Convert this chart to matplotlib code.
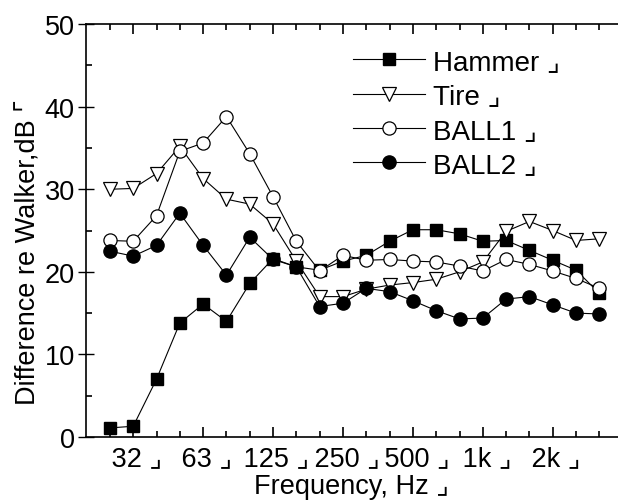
import numpy as np
import matplotlib.pyplot as plt
from matplotlib.ticker import FixedLocator

plt.rcParams['font.family'] = ['Liberation Sans', 'DejaVu Sans']

# 1/3 octave bands, 25 Hz .. 3150 Hz
bands = ['25', '31.5', '40', '50', '63', '80', '100', '125', '160', '200', '250',
         '315', '400', '500', '630', '800', '1k', '1.25k', '1.6k', '2k', '2.5k', '3.15k']
hammer = [1.1, 1.3, 7.0, 13.8, 16.1, 14.0, 18.6, 21.6, 20.6, 20.2, 21.3,
          22.0, 23.7, 25.1, 25.1, 24.6, 23.7, 23.8, 22.6, 21.4, 20.2, 17.4]
tire = [30.0, 30.1, 31.9, 35.2, 31.3, 28.8, 28.2, 25.8, 21.3, 17.0, 17.0,
        17.9, 18.4, 18.7, 19.1, 20.0, 21.2, 24.9, 26.1, 25.0, 23.8, 24.0]
ball1 = [23.8, 23.7, 26.8, 34.6, 35.6, 38.8, 34.3, 29.1, 23.7, 20.1, 22.0,
         21.4, 21.5, 21.3, 21.2, 20.7, 20.1, 21.5, 20.9, 20.1, 19.2, 18.0]
ball2 = [22.5, 21.9, 23.2, 27.1, 23.2, 19.6, 24.2, 21.5, 20.6, 15.8, 16.2,
         18.0, 17.6, 16.5, 15.3, 14.3, 14.4, 16.7, 17.0, 16.0, 15.0, 14.9]

major_idx = [1, 4, 7, 10, 13, 16, 19]
major_lab = ['32', '63', '125', '250', '500', '1k', '2k']

x = np.arange(len(bands))

fig = plt.figure(figsize=(6.18, 5.02), dpi=100)
ax = fig.add_axes([0.139, 0.1275, 0.861, 0.8225])

ax.plot(x, hammer, '-', color='black', lw=0.8, marker='s', ms=8.5,
        mfc='black', mec='black', label='Hammer \u231f')
ax.plot(x, tire, '-', color='black', lw=0.8, marker='v', ms=10.5,
        mfc='white', mec='black', mew=0.9, label='Tire \u231f')
ax.plot(x, ball1, '-', color='black', lw=0.8, marker='o', ms=9.5,
        mfc='white', mec='black', mew=0.9, label='BALL1 \u231f')
ax.plot(x, ball2, '-', color='black', lw=0.8, marker='o', ms=9.5,
        mfc='black', mec='black', label='BALL2 \u231f')

ax.set_xlim(-1.03, 21.8)
ax.set_ylim(0, 50)

ax.xaxis.set_major_locator(FixedLocator(major_idx))
ax.xaxis.set_minor_locator(FixedLocator([i for i in x if i not in major_idx]))
ax.set_xticklabels([' ' + s + ' \u231f' for s in major_lab], fontsize=19.5)
ax.tick_params(axis='x', which='major', direction='in', length=7, width=1.2,
               top=True, pad=6)
ax.tick_params(axis='x', which='minor', direction='in', length=4, width=1.2,
               top=True)

ax.set_yticks([0, 10, 20, 30, 40, 50])
ax.set_yticks([5, 15, 25, 35, 45], minor=True)
ax.tick_params(axis='y', which='major', direction='inout', length=12, width=1.0,
               labelsize=19.5, pad=2)
ax.tick_params(axis='y', which='minor', direction='in', length=4, width=1.2)

for s in ['left', 'bottom', 'top']:
    ax.spines[s].set_linewidth(1.2)
ax.spines['right'].set_visible(False)

ax.set_xlabel('Frequency, Hz \u231f', fontsize=19.5, labelpad=1)
ax.set_ylabel('Difference re Walker,dB \u231c', fontsize=19.5)
ax.yaxis.set_label_coords(-0.083, 0.45)

ax.legend(loc='upper left', bbox_to_anchor=(0.53, 0.95),
          bbox_transform=fig.transFigure, frameon=False, fontsize=20,
          handlelength=2.6, labelspacing=0.3, handletextpad=0.3)

plt.savefig('out.png', format='png')
plt.close()
